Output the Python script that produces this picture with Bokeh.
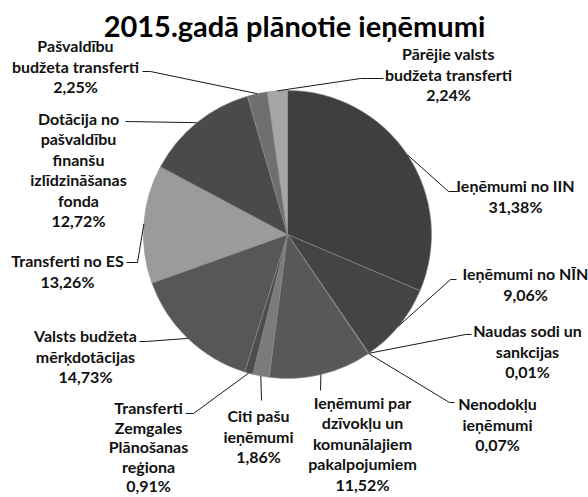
import math
from bokeh.plotting import figure
from bokeh.models import Range1d, ColumnDataSource
from bokeh.core.properties import value
from bokeh.embed import file_html
from bokeh.resources import INLINE

# ---- data ----
categories = [
    "Ieņēmumi no IIN",
    "Ieņēmumi no NĪN",
    "Naudas sodi un sankcijas",
    "Nenodokļu ieņēmumi",
    "Ieņēmumi par dzīvokļu un komunālajiem pakalpojumiem",
    "Citi pašu ieņēmumi",
    "Transferti Zemgales Plānošanas reģiona",
    "Valsts budžeta mērķdotācijas",
    "Transferti no ES",
    "Dotācija no pašvaldību finanšu izlīdzināšanas fonda",
    "Pašvaldību budžeta transferti",
    "Pārējie valsts budžeta transferti",
]
shares = [31.38, 9.06, 0.01, 0.07, 11.52, 1.86, 0.91, 14.73, 13.26, 12.72, 2.25, 2.24]
label_lines = [
    ["Ieņēmumi no IIN"],
    ["Ieņēmumi no NĪN"],
    ["Naudas sodi un", "sankcijas"],
    ["Nenodokļu", "ieņēmumi"],
    ["Ieņēmumi par", "dzīvokļu un", "komunālajiem", "pakalpojumiem"],
    ["Citi pašu", "ieņēmumi"],
    ["Transferti", "Zemgales", "Plānošanas", "reģiona"],
    ["Valsts budžeta", "mērķdotācijas"],
    ["Transferti no ES"],
    ["Dotācija no", "pašvaldību", "finanšu", "izlīdzināšanas", "fonda"],
    ["Pašvaldību", "budžeta transferti"],
    ["Pārējie valsts", "budžeta transferti"],
]
title = "2015.gadā plānotie ieņēmumi"

# ---- styles / layout ----
colors = ["#3f3f3f", "#444444", "#4e4e4e", "#4e4e4e", "#585858", "#7b7b7b",
          "#4d4d4d", "#575757", "#9b9b9b", "#4a4a4a", "#6f6f6f", "#a6a6a6"]
# label anchor: (center x, first line y, line spacing) in page pixels
label_pos = [(515, 185, 20.6), (525, 273, 20.6), (527, 330, 20.6), (497, 403, 20.6),
             (362, 402, 20.4), (258, 415, 20.6), (148, 407, 19.6), (85, 335, 20.6),
             (67, 260, 20.6), (78, 118, 20.4), (75, 45, 20.6), (448, 53, 20.6)]
# leader polyline points after the pie-edge point
leader_pts = [
    [(448, 191), (457, 191)],
    [(450, 279), (456, 279)],
    [(465, 334), (471, 334)],
    [(449, 402), (454, 402)],
    [(320, 390)],
    [(261, 400)],
    [(193, 413), (185, 413)],
    [(145, 341), (139, 341)],
    [(137, 262), (126, 262)],
    [(125, 121)],
    [(150, 71), (142, 71)],
    [(360, 78), (383, 78)],
]
CX, CY, R = 287, 234, 144
FONT = value("Lato")

W, H = 588, 497
p = figure(width=W, height=H, output_backend="svg", toolbar_location=None,
           x_range=Range1d(0, W), y_range=Range1d(-H, 0),
           min_border=0, outline_line_color=None)
p.axis.visible = False
p.grid.visible = False
p.background_fill_color = "white"
p.border_fill_color = "white"

total = sum(shares)
starts, ends, mids = [], [], []
cum = 0.0
for s in shares:
    a0 = cum / total
    cum += s
    a1 = cum / total
    starts.append(math.pi / 2 - 2 * math.pi * a0)
    ends.append(math.pi / 2 - 2 * math.pi * a1)
    mids.append(2 * math.pi * (a0 + a1) / 2)

src = ColumnDataSource(dict(start=starts, end=ends, color=colors, cat=categories))
p.wedge(x=CX, y=-CY, radius=R, start_angle="start", end_angle="end", direction="clock",
        fill_color="color", line_color="#8c8c8c", line_width=0.6, source=src)

# leader lines
for i, m in enumerate(mids):
    ex = CX + R * math.sin(m)
    ey = CY - R * math.cos(m)
    xs = [ex] + [pt[0] for pt in leader_pts[i]]
    ys = [-ey] + [-pt[1] for pt in leader_pts[i]]
    p.line(xs, ys, line_color="#1a1a1a", line_width=1)

# labels
tx, ty, tt = [], [], []
for i, lines in enumerate(label_lines):
    lx, ly, lh = label_pos[i]
    pct = f"{shares[i]:.2f}".replace(".", ",") + "%"
    for j, t in enumerate(lines + [pct]):
        tx.append(lx)
        ty.append(-(ly + j * lh))
        tt.append(t)
p.text(x=tx, y=ty, text=tt, text_font=FONT, text_font_style="bold",
       text_font_size="16px", text_align="center", text_baseline="middle",
       text_color="#111111")

p.text(x=[294], y=[-25], text=[title], text_font=FONT, text_font_style="bold",
       text_font_size="29px", text_align="center", text_baseline="middle",
       text_color="#000000")

open("out.html", "w").write(file_html(p, INLINE))
